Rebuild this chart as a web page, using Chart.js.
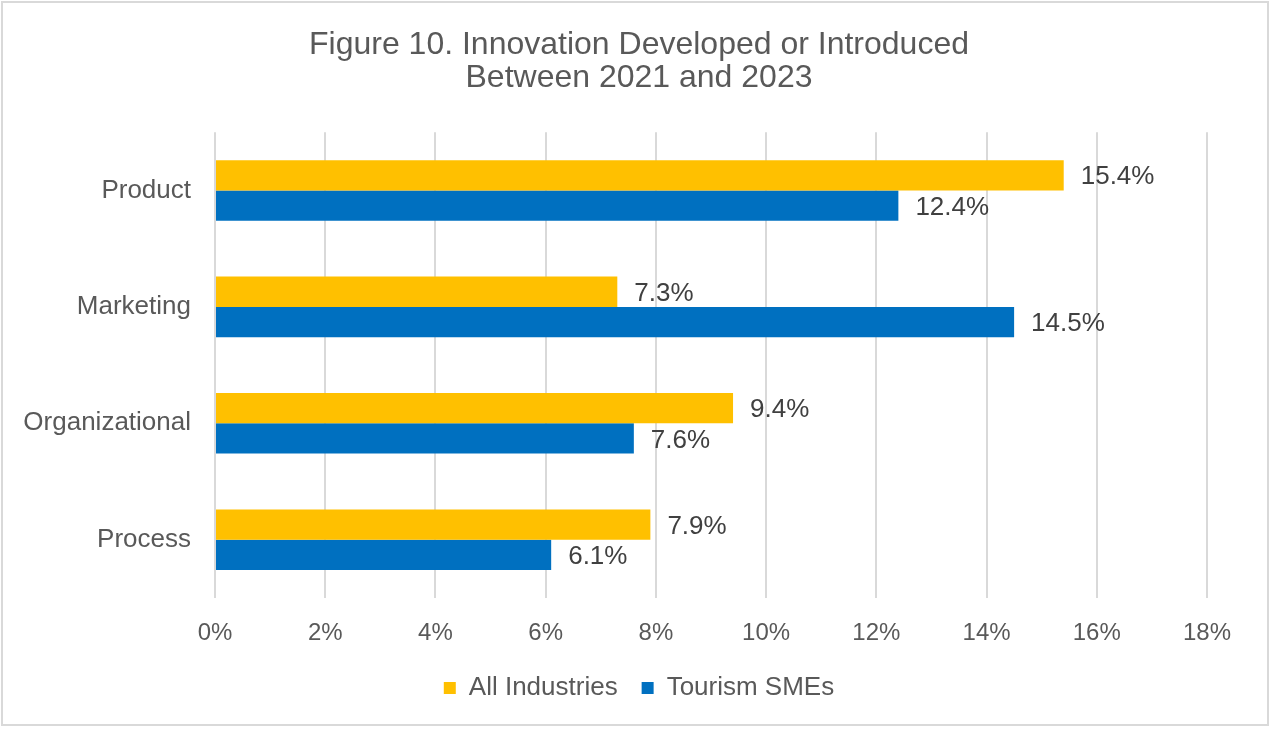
<!DOCTYPE html>
<html>
<head>
<meta charset="utf-8">
<script src="https://cdn.jsdelivr.net/npm/chart.js@4"></script>
<style>
  html, body { margin: 0; padding: 0; background: #fff; }
  #wrap { width: 1276px; height: 733px; }
</style>
</head>
<body>
<div id="wrap"><canvas id="myChart" width="1276" height="733"></canvas></div>
<script>
const categories = ['Product', 'Marketing', 'Organizational', 'Process'];
const allIndustries = [15.4, 7.3, 9.4, 7.9];
const tourismSMEs = [12.4, 14.5, 7.6, 6.1];
const seriesNames = ['All Industries', 'Tourism SMEs'];
const titleLines = ['Figure 10. Innovation Developed or Introduced', 'Between 2021 and 2023'];

const FONT = "'Liberation Sans', Arial, sans-serif";

// 外枠
const borderPlugin = {
    id: 'frame',
    beforeDraw(chart) {
        const c = chart.ctx;
        c.save();
        c.fillStyle = '#fff';
        c.fillRect(0, 0, chart.width, chart.height);
        c.strokeStyle = '#d9d9d9';
        c.lineWidth = 2;
        c.strokeRect(2, 2, 1266, 723);
        c.restore();
    }
};

// バーの右にラベル
const valueLabels = {
    id: 'valueLabels',
    afterDatasetsDraw(chart) {
        const c = chart.ctx;
        c.save();
        c.font = '26px ' + FONT;
        c.fillStyle = '#404040';
        c.textAlign = 'left';
        c.textBaseline = 'middle';
        chart.data.datasets.forEach((ds, i) => {
            chart.getDatasetMeta(i).data.forEach((bar, j) => {
                c.fillText(ds.data[j].toFixed(1) + '%', bar.x + 17, bar.y + 2);
            });
        });
        c.restore();
    }
};

new Chart(document.getElementById('myChart').getContext('2d'), {
    type: 'bar',
    data: {
        labels: categories,
        datasets: [
            { label: seriesNames[0], data: allIndustries, backgroundColor: '#FFC000' },
            { label: seriesNames[1], data: tourismSMEs, backgroundColor: '#0070C0' }
        ]
    },
    options: {
        indexAxis: 'y',
        responsive: false,
        animation: false,
        devicePixelRatio: 1,
        categoryPercentage: 0.52,
        barPercentage: 1,
        layout: { padding: { left: 10, right: 8, top: 0, bottom: 22 } },
        scales: {
            x: {
                min: 0,
                max: 18,
                ticks: {
                    stepSize: 2,
                    padding: 21,
                    color: '#595959',
                    font: { family: FONT, size: 24 },
                    callback: v => v + '%'
                },
                grid: { color: '#d9d9d9', lineWidth: 2, drawTicks: false },
                border: { display: false },
                afterFit(scale) { scale.height = 53; }
            },
            y: {
                ticks: {
                    padding: 24,
                    color: '#595959',
                    font: { family: FONT, size: 26 }
                },
                grid: { display: false, drawTicks: false },
                border: { display: false },
                afterFit(scale) { scale.width = 205; }
            },
            // 右側の余白用（タイトルと凡例を中央に置くため）
            yRight: {
                type: 'category',
                position: 'right',
                ticks: { display: false },
                grid: { display: false, drawTicks: false },
                border: { display: false },
                afterFit(scale) { scale.width = 61; }
            }
        },
        plugins: {
            title: {
                display: true,
                text: titleLines,
                color: '#595959',
                font: { family: FONT, size: 32, weight: 'normal', lineHeight: 1.05 },
                padding: { top: 28, bottom: 37 }
            },
            legend: {
                position: 'bottom',
                labels: {
                    color: '#595959',
                    font: { family: FONT, size: 26 },
                    boxWidth: 12,
                    boxHeight: 12,
                    padding: 24
                }
            },
            tooltip: { enabled: false }
        }
    },
    plugins: [borderPlugin, valueLabels]
});
</script>
</body>
</html>
